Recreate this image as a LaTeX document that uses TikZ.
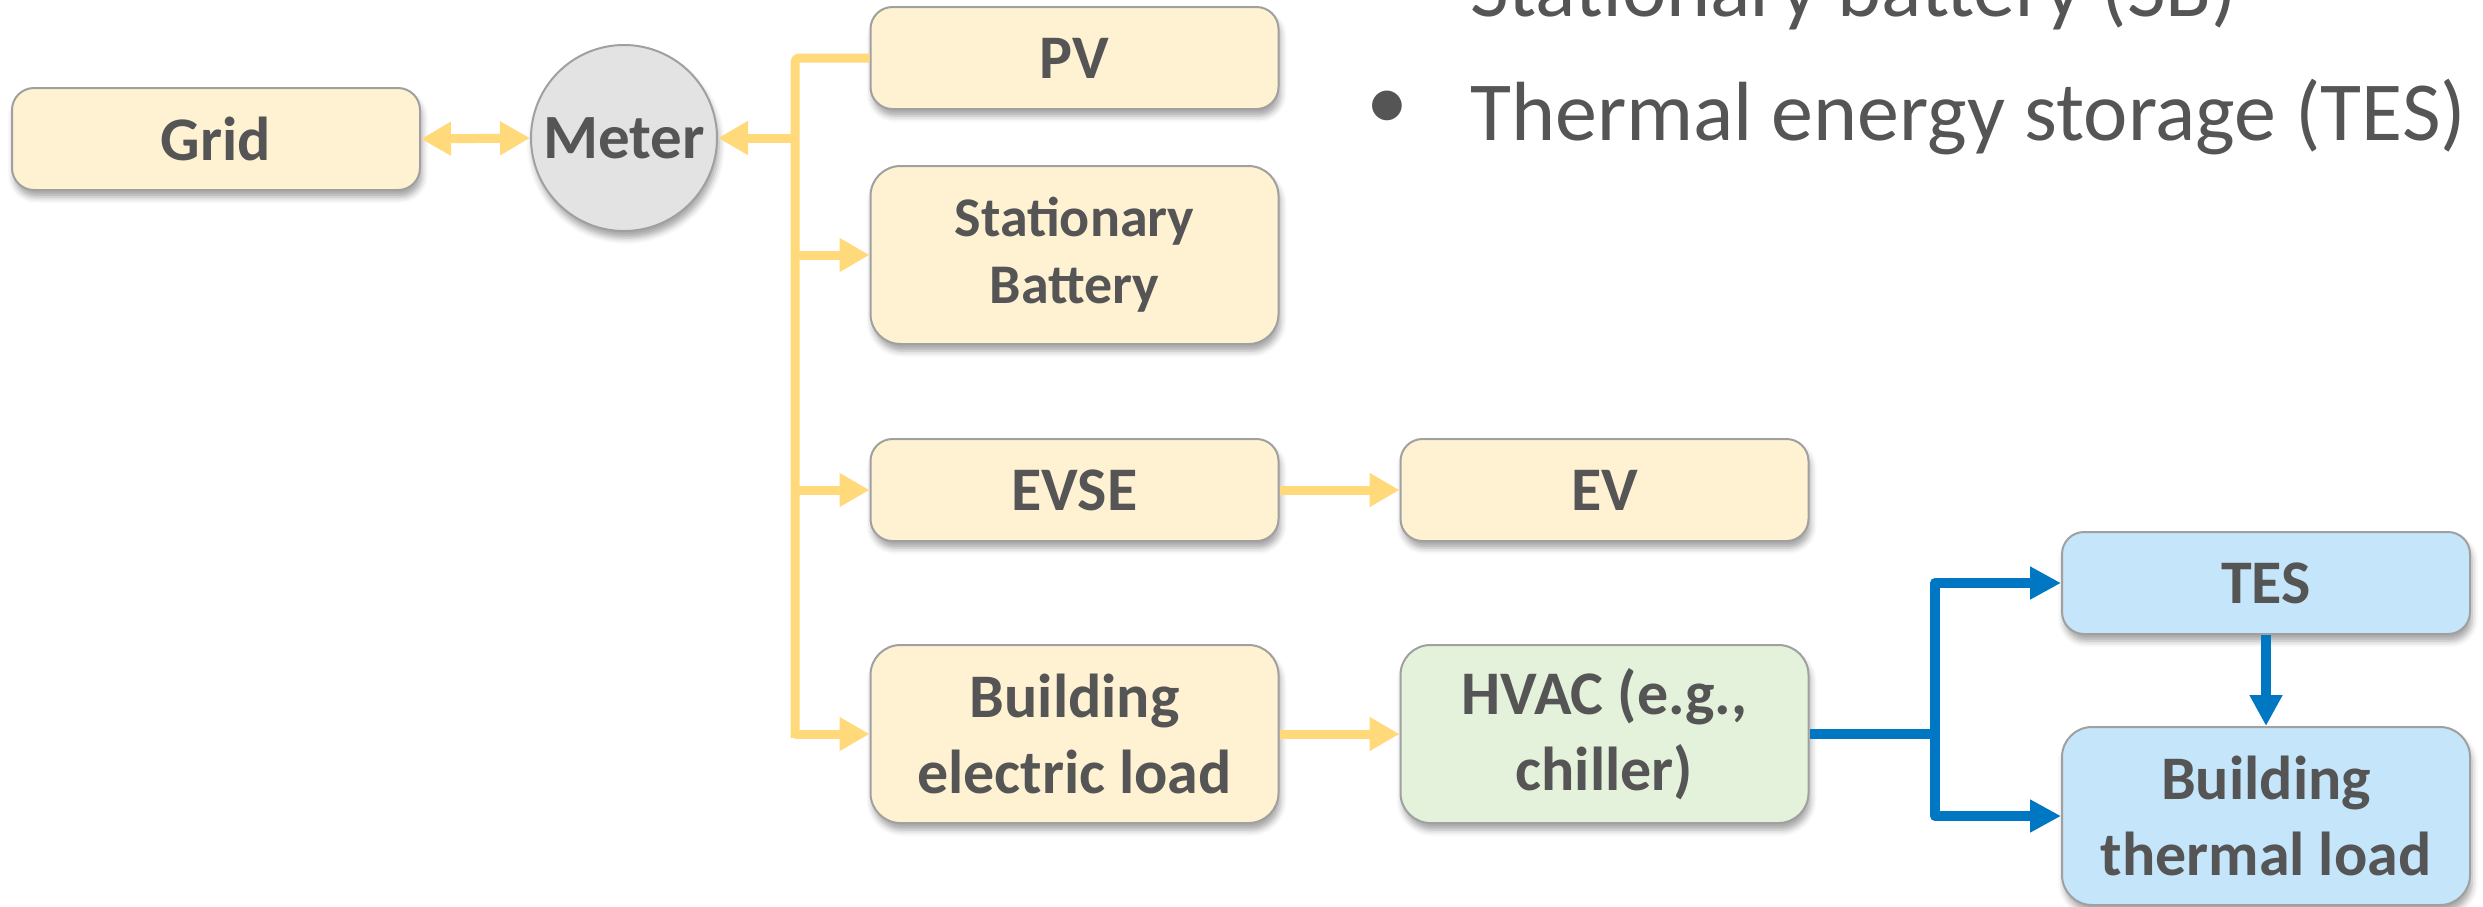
\documentclass[tikz,border=0pt]{standalone}
\usepackage{fontspec}
\setmainfont{Carlito}
\usetikzlibrary{arrows.meta,shadows.blur}
\definecolor{txt}{HTML}{555555}
\definecolor{yfill}{HTML}{FFF2D3}
\definecolor{gfill}{HTML}{E5F2DB}
\definecolor{bfill}{HTML}{C4E5FA}
\definecolor{mfill}{HTML}{E3E3E3}
\definecolor{bord}{HTML}{A0A0A0}
\definecolor{yline}{HTML}{FFD97A}
\definecolor{bline}{HTML}{0077C2}
\begin{document}
\begin{tikzpicture}[x=1pt,y=-1pt,
  box/.style={draw=bord, line width=2pt, rounded corners=22pt, minimum height=102pt,
    minimum width=408pt, align=center, text=txt, inner sep=0pt,
    font=\fontsize{62}{76}\selectfont\bfseries,
    blur shadow={shadow xshift=2pt, shadow yshift=-7pt, shadow blur radius=6pt, shadow opacity=35}},
  tall/.style={minimum height=178pt, rounded corners=30pt},
  ybox/.style={box, fill=yfill},
  gbox/.style={box, fill=gfill},
  bbox/.style={box, fill=bfill},
  ycon/.style={draw=yline, line width=9pt, line join=round},
  yarr/.style={ycon, -{Triangle[length=30pt,width=32pt]}},
  ydbl/.style={ycon, {Triangle[length=30pt,width=32pt]}-{Triangle[length=30pt,width=32pt]}},
  bcon/.style={draw=bline, line width=10pt, line join=round},
  barr/.style={bcon, -{Triangle[length=31pt,width=31pt]}},
  bigtext/.style={anchor=base west, inner sep=0pt, text=txt, font=\fontsize{84}{100}\selectfont}
]
\useasboundingbox (0,0) rectangle (2483,906);

% nodes
\node[ybox] (grid) at (216,139) {Grid};
\node[circle, draw=bord, line width=2pt, fill=mfill, minimum size=186pt, inner sep=0pt,
  text=txt, font=\fontsize{63}{72}\selectfont\bfseries,
  blur shadow={shadow xshift=2pt, shadow yshift=-7pt, shadow blur radius=6pt, shadow opacity=35}]
  (meter) at (624,138) {Meter};
\node[ybox] (pv) at (1074.5,58) {PV};
\node[ybox, tall, font=\fontsize{56}{67}\selectfont\bfseries] (sb) at (1074.5,255) {Stationary\\Battery};
\node[ybox] (evse) at (1074.5,490) {EVSE};
\node[ybox] (ev) at (1604.5,490) {EV};
\node[ybox, tall] (bel) at (1074.5,734) {Building\\electric load};
\node[gbox, tall] (hvac) at (1604.5,734) {HVAC (e.g.,\\chiller)};
\node[bbox] (tes) at (2266,583) {TES};
\node[bbox, tall] (btl) at (2266,816) {Building\\thermal load};

% text
\node[bigtext] (l1) at (1470,16) {Stationary battery (SB)};
\node[bigtext] (l2) at (1470,140) {Thermal energy storage (TES)};
\node[anchor=base, inner sep=0pt, text=txt, font=\fontsize{84}{100}\selectfont] (bul) at (1387,129) {•};

% yellow bus
\coordinate (bustop) at (795,58);
\coordinate (busbot) at (795,738);
\draw[ycon, rounded corners=4pt] (pv.west) -- (bustop) -- (busbot);
\draw[yarr] (bustop |- meter.east) -- (meter.east);
\draw[ydbl] (grid.east) -- (meter.west);
\draw[yarr] (bustop |- sb.west) -- (sb.west);
\draw[yarr] (bustop |- evse.west) -- (evse.west);
\draw[yarr] (bustop |- bel.west) -- (bel.west);
\draw[yarr] (evse.east) -- (ev.west);
\draw[yarr] (bel.east) -- (hvac.west);

% blue
\coordinate (jn) at (1935,734);
\draw[bcon] (hvac.east) -- (jn);
\draw[barr] (jn) |- (tes.west);
\draw[barr] (jn) |- (btl.west);
\draw[barr] (tes.south) -- (btl.north);
\end{tikzpicture}
\end{document}
